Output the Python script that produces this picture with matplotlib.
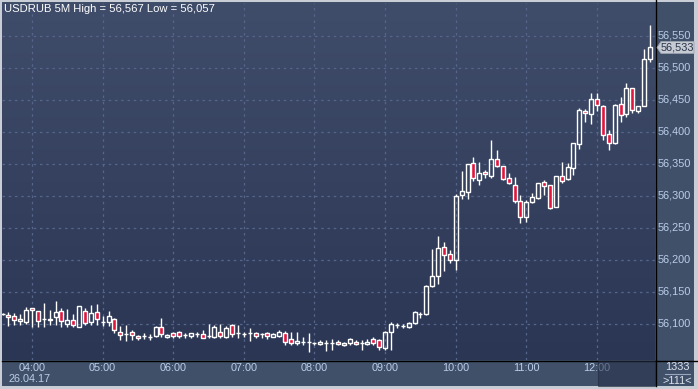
import numpy as np
import matplotlib
matplotlib.use("Agg")
import matplotlib.pyplot as plt
from matplotlib.patches import Rectangle, Polygon
from matplotlib.colors import LinearSegmentedColormap

# === DATA: USDRUB 5M candles, 03:35 .. 12:45 (111 bars) ===
opens = [56.115, 56.1145, 56.112, 56.104, 56.1027, 56.1245, 56.1198, 56.108, 56.106, 56.111,
         56.120, 56.1005, 56.1067, 56.095, 56.1208, 56.103, 56.118, 56.103, 56.103, 56.108,
         56.087, 56.0845, 56.0875, 56.081, 56.082, 56.080, 56.082, 56.095, 56.080, 56.0864,
         56.088, 56.083, 56.081, 56.0844, 56.0844, 56.081, 56.080, 56.088, 56.080, 56.0985,
         56.0855, 56.0844, 56.0855, 56.0864, 56.0844, 56.0864, 56.080, 56.081, 56.0864, 56.076,
         56.0698, 56.0723, 56.0723, 56.0698, 56.0688, 56.071, 56.071, 56.0725, 56.0667, 56.0698,
         56.0725, 56.0698, 56.069, 56.076, 56.075, 56.062, 56.088, 56.0984, 56.0973, 56.0958,
         56.102, 56.1156, 56.1156, 56.1598, 56.1755, 56.2198, 56.2089, 56.200, 56.302, 56.3067,
         56.3511, 56.325, 56.3375, 56.3317, 56.3573, 56.3469, 56.3277, 56.3172, 56.2922, 56.2677,
         56.2911, 56.2973, 56.3214, 56.3172, 56.2833, 56.3313, 56.327, 56.3433, 56.3808, 56.4328,
         56.4277, 56.4516, 56.4406, 56.3964, 56.3833, 56.4433, 56.4277, 56.4683, 56.4328, 56.4411,
         56.5136]
highs = [56.117, 56.119, 56.117, 56.1156, 56.1266, 56.125, 56.121, 56.133, 56.122, 56.1355,
         56.125, 56.123, 56.1156, 56.128, 56.125, 56.130, 56.131, 56.112, 56.120, 56.109,
         56.0965, 56.099, 56.090, 56.083, 56.086, 56.084, 56.0965, 56.109, 56.085, 56.088,
         56.0895, 56.0864, 56.0864, 56.088, 56.0906, 56.100, 56.0985, 56.100, 56.0966, 56.100,
         56.0985, 56.0875, 56.0933, 56.0875, 56.0864, 56.0875, 56.0855, 56.090, 56.0895, 56.088,
         56.088, 56.080, 56.0864, 56.0723, 56.075, 56.075, 56.076, 56.075, 56.0725, 56.0775,
         56.075, 56.075, 56.076, 56.080, 56.0766, 56.0895, 56.1036, 56.1011, 56.0995, 56.1036,
         56.1198, 56.1192, 56.1605, 56.2172, 56.2375, 56.2277, 56.2156, 56.3027, 56.3395, 56.3495,
         56.3605, 56.3527, 56.3406, 56.3875, 56.3719, 56.3475, 56.3355, 56.3292, 56.3016, 56.2938,
         56.3042, 56.3208, 56.325, 56.3172, 56.3313, 56.3536, 56.352, 56.3823, 56.437, 56.4355,
         56.4614, 56.4614, 56.4422, 56.4031, 56.4433, 56.4542, 56.477, 56.4683, 56.4406, 56.5292,
         56.5672]
lows = [56.114, 56.0964, 56.099, 56.098, 56.100, 56.095, 56.096, 56.095, 56.099, 56.099,
        56.095, 56.096, 56.095, 56.095, 56.098, 56.099, 56.099, 56.0965, 56.0965, 56.086,
        56.0755, 56.073, 56.0755, 56.0755, 56.077, 56.0755, 56.079, 56.079, 56.078, 56.0777,
        56.0777, 56.0777, 56.0777, 56.080, 56.0777, 56.0777, 56.0777, 56.0777, 56.0777, 56.080,
        56.0777, 56.079, 56.074, 56.0777, 56.0777, 56.0766, 56.079, 56.079, 56.0672, 56.067,
        56.067, 56.067, 56.0567, 56.0675, 56.0675, 56.058, 56.060, 56.0675, 56.065, 56.0675,
        56.0675, 56.059, 56.0675, 56.0675, 56.059, 56.059, 56.0594, 56.0942, 56.0942, 56.0942,
        56.0995, 56.1089, 56.1136, 56.1583, 56.1625, 56.1833, 56.1948, 56.1844, 56.2953, 56.2953,
        56.3234, 56.3172, 56.3286, 56.3286, 56.3458, 56.3255, 56.3183, 56.2895, 56.2573, 56.2598,
        56.2895, 56.2958, 56.3016, 56.2797, 56.2828, 56.3208, 56.325, 56.3328, 56.3739, 56.4152,
        56.413, 56.4333, 56.3875, 56.3719, 56.3813, 56.4161, 56.4234, 56.4292, 56.4292, 56.4411,
        56.5098]
closes = [56.116, 56.111, 56.1058, 56.108, 56.1214, 56.1214, 56.105, 56.1085, 56.108, 56.119,
          56.105, 56.106, 56.098, 56.1277, 56.1016, 56.117, 56.108, 56.103, 56.112, 56.090,
          56.083, 56.0845, 56.0833, 56.078, 56.082, 56.080, 56.095, 56.0845, 56.0833, 56.081,
          56.081, 56.083, 56.0855, 56.0844, 56.0777, 56.081, 56.095, 56.081, 56.0933, 56.0844,
          56.0855, 56.0844, 56.0855, 56.081, 56.0844, 56.081, 56.0844, 56.0875, 56.0723, 56.0707,
          56.074, 56.0723, 56.0723, 56.0698, 56.0723, 56.071, 56.071, 56.0688, 56.0707, 56.076,
          56.0688, 56.0698, 56.0725, 56.0707, 56.0645, 56.088, 56.0995, 56.0984, 56.0973, 56.1011,
          56.1183, 56.1156, 56.1594, 56.175, 56.2183, 56.2078, 56.200, 56.3005, 56.3078, 56.3495,
          56.3277, 56.3355, 56.3339, 56.3573, 56.3473, 56.3261, 56.3198, 56.2927, 56.2667, 56.2906,
          56.2989, 56.3198, 56.3156, 56.2808, 56.3313, 56.3239, 56.3453, 56.3823, 56.4344, 56.4292,
          56.4516, 56.4417, 56.3958, 56.3823, 56.4422, 56.4266, 56.4683, 56.4344, 56.4406, 56.5136,
          56.5323]

hour_labels = ['04:00', '05:00', '06:00', '07:00', '08:00', '09:00', '10:00', '11:00', '12:00']
hour_index = [5, 17, 29, 41, 53, 65, 77, 89, 101]
price_ticks = [56.10, 56.15, 56.20, 56.25, 56.30, 56.35, 56.40, 56.45, 56.50, 56.55]
title = 'USDRUB 5M High = 56,567 Low = 56,057'
last_price = '56,533'

# === STYLE ===
W, H = 698, 389
RED = '#e0163e'
TXT = '#b9cdea'
PANEL = '#415069'
GRID = '#56668a'
FS = 7.8

def fx(px):
    return px / W

def fy(py):
    return 1 - py / H

plt.rcParams['font.family'] = ['Liberation Sans', 'DejaVu Sans']
fig = plt.figure(figsize=(W / 100, H / 100), dpi=100)
fig.patch.set_facecolor('#c9ced6')

# chart panel (behind everything)
panel = fig.add_axes([fx(2), fy(386), fx(692), 384 / H], zorder=-1)
panel.set_facecolor(PANEL)
panel.set_xticks([])
panel.set_yticks([])
for s in panel.spines.values():
    s.set_visible(False)

ax = fig.add_axes([fx(2), fy(360), fx(653), 357 / H], zorder=1)
x0, x1 = -0.1, 110.86
y0, y1 = 56.04375, 56.6016
ax.set_xlim(x0, x1)
ax.set_ylim(y0, y1)

grad = LinearSegmentedColormap.from_list('bg', ['#2b3654', '#3f4c6a'])
ax.imshow(np.linspace(0, 1, 200).reshape(-1, 1), extent=[x0, x1, y0, y1], origin='lower',
          aspect='auto', cmap=grad, zorder=0)

for p in price_ticks:
    ax.axhline(p, color=GRID, lw=0.9, ls=(0, (2, 3)), zorder=1)
for h in hour_index:
    ax.axvline(h, color=GRID, lw=0.9, ls=(0, (2, 3)), zorder=1)

bw = 0.68
for i in range(len(opens)):
    o, hi, lo, c = opens[i], highs[i], lows[i], closes[i]
    top, bot = max(o, c), min(o, c)
    ax.plot([i, i], [top, hi], color='white', lw=1, zorder=2, solid_capstyle='butt')
    ax.plot([i, i], [lo, bot], color='white', lw=1, zorder=2, solid_capstyle='butt')
    face = RED if c < o else 'none'
    ax.add_patch(Rectangle((i - bw / 2, bot), bw, top - bot, facecolor=face,
                           edgecolor='white', lw=1, zorder=3))

for s in ax.spines.values():
    s.set_visible(False)
ax.set_xticks([])
ax.set_yticks([])

fig.text(fx(4), fy(8.5), title, color='white', fontsize=FS + 0.3, va='center', ha='left',
         zorder=5)

# black separators
fig.add_artist(plt.Line2D([fx(655.5), fx(655.5)], [fy(386), fy(0)], color='black', lw=1))
fig.add_artist(plt.Line2D([fx(2), fx(698)], [fy(360.5), fy(360.5)], color='black', lw=1))

# price labels
for p in price_ticks:
    py = 36 + (56.55 - p) * 640
    fig.text(fx(658), fy(py), ('%.3f' % p).replace('.', ','), color=TXT, fontsize=FS,
             va='center', ha='left')

# last price marker
ly = 47.5
fig.add_artist(Polygon([[fx(657), fy(ly)], [fx(661), fy(ly - 6)], [fx(694), fy(ly - 6)],
                        [fx(694), fy(ly + 6)], [fx(661), fy(ly + 6)]], closed=True,
                       transform=fig.transFigure, facecolor='#c5cad3', edgecolor='#9aa2b0',
                       lw=0.6, zorder=4))
fig.text(fx(677.5), fy(ly), last_price, color='#283248', fontsize=FS, va='center', ha='center',
         zorder=5)

# time labels
for h, lab in zip(hour_index, hour_labels):
    px = 2.6 + 5.885 * h
    fig.text(fx(px), fy(368), lab, color=TXT, fontsize=FS, va='center', ha='center')
fig.text(fx(30), fy(379), '26.04.17', color=TXT, fontsize=FS, va='center', ha='center')

# highlighted last hour on time axis
fig.add_artist(Rectangle((fx(598), fy(386)), fx(57), 25 / H, transform=fig.transFigure,
                         facecolor='#26304a', edgecolor='#1e2638', lw=0.8, alpha=0.55,
                         zorder=6))

fig.text(fx(677), fy(367), '1333', color='#dde3ee', fontsize=FS, va='center', ha='center')
fig.add_artist(plt.Line2D([fx(665), fx(690)], [fy(374), fy(374)], color='#9aa6bc', lw=0.8))
fig.text(fx(677), fy(381), '>111<', color='#dde3ee', fontsize=FS, va='center', ha='center')

fig.savefig('out.png', dpi=100, facecolor=fig.get_facecolor())
